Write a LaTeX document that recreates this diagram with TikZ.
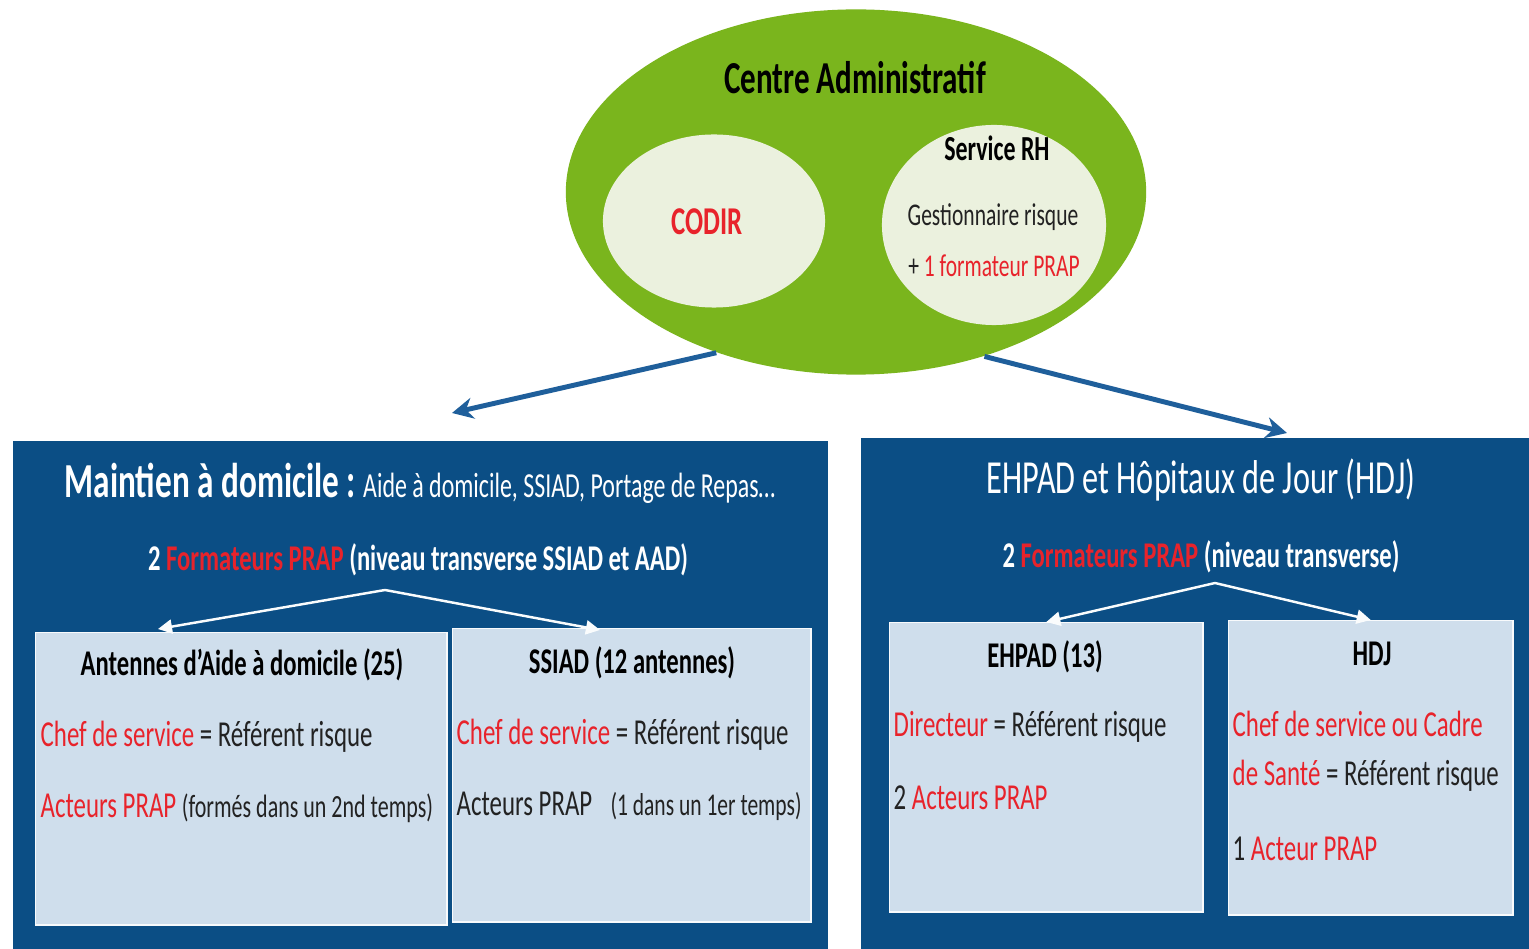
\documentclass[tikz,border=0pt]{standalone}
\usepackage{fontspec}
\setmainfont{Carlito}[FakeStretch=0.68]
\usetikzlibrary{shapes.geometric,arrows.meta}
\definecolor{adminGreen}{HTML}{7AB51D}
\definecolor{paleGreen}{HTML}{EBF1DE}
\definecolor{panelBlue}{HTML}{0B4E85}
\definecolor{boxBlue}{HTML}{CFDEEC}
\definecolor{linkBlue}{HTML}{1F5F9B}
\definecolor{prapRed}{HTML}{E8232B}
\definecolor{inkGrey}{HTML}{222222}
\newcommand{\rd}[1]{\textcolor{prapRed}{#1}}
\newcommand{\fs}[1]{\fontsize{#1}{#1}\selectfont}
\tikzset{
	oval/.style={ellipse, inner sep=0pt, fill=#1},
	panel/.style={rectangle, anchor=north west, inner sep=0pt, fill=panelBlue},
	unit/.style={rectangle, anchor=north west, inner sep=0pt, fill=boxBlue, draw=white!85!boxBlue, line width=0.4pt},
	line/.style={anchor=west, inner sep=0pt, text=inkGrey, font=\fs{10.4}},
	head/.style={inner sep=0pt, text=black, font=\bfseries\fs{10.3}},
	link/.style={draw=linkBlue, line width=1.4pt, -{Stealth[length=6pt,width=6pt]}},
	split/.style={draw=white!90!boxBlue, line width=0.7pt, -{Triangle[length=4pt,width=4pt]}}
}
\begin{document}
\begin{tikzpicture}[x=0.01cm, y=-0.01cm]
	\useasboundingbox[fill=white] (0,0) rectangle (1529,949);
%
	\node[oval=adminGreen, minimum width=5.8cm, minimum height=3.65cm] (admin) at (856,192) {};
	\node[oval=paleGreen, minimum width=2.22cm, minimum height=1.73cm] (codir) at (714,221) {};
	\node[oval=paleGreen, minimum width=2.24cm, minimum height=2cm] (rh) at (994,225) {};
	\node[inner sep=0pt, font=\bfseries\fs{13}] (adminTitle) at (855,78) {Centre Administratif};
	\node[inner sep=0pt, text=prapRed, font=\bfseries\fs{11.2}] (codirTitle) at (707,222) {CODIR};
	\node[inner sep=0pt, font=\bfseries\fs{10}] (rhTitle) at (997,148) {Service RH};
	\node[inner sep=0pt, text=inkGrey, font=\fs{9}] (rhRisque) at (993,217) {Gestionnaire risque};
	\node[inner sep=0pt, text=inkGrey, font=\fs{9}] (rhPrap) at (994,266) {+ \rd{1 formateur PRAP}};
%
	\begin{scope}
		\node[panel, minimum width=8.15cm, minimum height=5.09cm] (domicile) at (12,440) {};
		\node[inner sep=0pt, text=white] (domicileTitle) at (420,483) {{\bfseries\fs{13.9}Maintien à domicile :} {\fs{10}Aide à domicile, SSIAD, Portage de Repas…}};
		\node[inner sep=0pt, text=white, font=\bfseries\fs{10.3}] (domicilePrap) at (418,560) {2 \rd{Formateurs PRAP} (niveau transverse SSIAD et AAD)};
		\node[unit, minimum width=4.11cm, minimum height=2.92cm] (aad) at (35,632) {};
		\node[unit, minimum width=3.58cm, minimum height=2.93cm] (ssiad) at (452,628) {};
		\node[head] (aadTitle) at (242,665) {Antennes d’Aide à domicile (25)};
		\node[head] (ssiadTitle) at (632,663) {SSIAD (12 antennes)};
		\node[line] (aadChef) at (40,737) {\rd{Chef de service} = Référent risque};
		\node[line] (aadActeurs) at (40,808) {\rd{Acteurs PRAP} {\fs{9.2}(formés dans un 2nd temps)}};
		\node[line] (ssiadChef) at (456,735) {\rd{Chef de service} = Référent risque};
		\node[line] (ssiadActeurs) at (456,806) {Acteurs PRAP\enspace{\fs{9}(1 dans un 1er temps)}};
		\coordinate (domicileApex) at (385,590);
		\coordinate (aadTip) at (158,629);
		\coordinate (ssiadTip) at (600,630);
		\draw[split] (domicileApex) -- (aadTip);
		\draw[split] (domicileApex) -- (ssiadTip);
	\end{scope}
%
	\begin{scope}
		\node[panel, minimum width=6.69cm, minimum height=5.12cm] (ehpadHdj) at (860,437) {};
		\node[inner sep=0pt, text=white, font=\fs{13.5}] (ehpadHdjTitle) at (1201,480) {EHPAD et Hôpitaux de Jour (HDJ)};
		\node[inner sep=0pt, text=white, font=\bfseries\fs{10.3}] (ehpadHdjPrap) at (1201,557) {2 \rd{Formateurs PRAP} (niveau transverse)};
		\node[unit, minimum width=3.13cm, minimum height=2.89cm] (ehpad) at (889,622) {};
		\node[unit, minimum width=2.84cm, minimum height=2.94cm] (hdj) at (1228,620) {};
		\node[head] (ehpadTitle) at (1045,657) {EHPAD (13)};
		\node[head] (hdjTitle) at (1372,654) {HDJ};
		\node[line] (ehpadDir) at (893,727) {\rd{Directeur} = Référent risque};
		\node[line] (ehpadActeurs) at (893,798) {2 \rd{Acteurs PRAP}};
		\node[line] (hdjChef) at (1232,724) {\rd{Chef de service ou Cadre}};
		\node[line] (hdjSante) at (1232,776) {\rd{de Santé} = Référent risque};
		\node[line] (hdjActeur) at (1232,849) {1 \rd{Acteur PRAP}};
		\coordinate (ehpadHdjApex) at (1215,583);
		\draw[split] (ehpadHdjApex) -- (ehpad.north);
		\draw[split] (ehpadHdjApex) -- (hdj.north);
	\end{scope}
%
	\coordinate (domicileTip) at (452,413);
	\coordinate (ehpadHdjTip) at (1287,433);
	\draw[link] (admin.229) -- (domicileTip);
	\draw[link] (admin.308) -- (ehpadHdjTip);
\end{tikzpicture}
\end{document}
